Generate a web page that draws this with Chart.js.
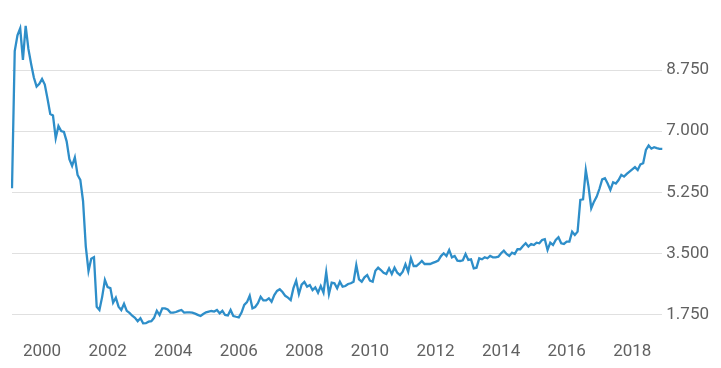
<!DOCTYPE html>
<html>
<head>
<meta charset="utf-8">
<script src="https://cdn.jsdelivr.net/npm/chart.js@4"></script>
<style>
  body { margin: 0; background: #fff; }
</style>
</head>
<body>
<canvas id="myChart" width="721" height="368"></canvas>
<script>
// monthly series, Feb 1999 .. Dec 2018
const startYear = 1999
const startMonth = 2
const xTickYears = ['2000', '2002', '2004', '2006', '2008', '2010', '2012', '2014', '2016', '2018']
const yTicks = [1750, 3500, 5250, 7000, 8750]

const values = [
    5365, 9300, 9750, 9950, 9046, 10021, 9360, 8930, 8540, 8280, 8360, 8500,
    8340, 7930, 7496, 7450, 6800, 7152, 7005, 6980, 6710, 6200, 6005, 6250,
    5746, 5606, 5000, 3700, 2990, 3340, 3385, 1968, 1873, 2250, 2734, 2530,
    2500, 2083, 2227, 1968, 1873, 2050, 1850, 1790, 1710, 1650, 1550, 1635,
    1492, 1495, 1538, 1555, 1650, 1854, 1730, 1922, 1922, 1890, 1800, 1796,
    1816, 1850, 1873, 1799, 1805, 1803, 1797, 1770, 1735, 1701, 1760, 1806,
    1828, 1845, 1830, 1873, 1778, 1850, 1730, 1716, 1873, 1701, 1680, 1663,
    1800, 2020, 2100, 2283, 1922, 1960, 2070, 2255, 2150, 2150, 2209, 2111,
    2304, 2420, 2467, 2390, 2280, 2230, 2160, 2500, 2714, 2332, 2600, 2680,
    2542, 2590, 2447, 2524, 2370, 2562, 2370, 2955, 2332, 2657, 2640, 2496,
    2685, 2542, 2562, 2620, 2640, 2685, 3164, 2754, 2685, 2811, 2877, 2714,
    2685, 3001, 3087, 3020, 2940, 2906, 3069, 2906, 3087, 2943, 2877, 2972,
    3184, 2972, 3356, 3135, 3135, 3200, 3279, 3193, 3193, 3193, 3225, 3255,
    3288, 3420, 3500, 3423, 3595, 3385, 3423, 3288, 3279, 3300, 3480, 3308,
    3327, 3069, 3087, 3356, 3327, 3385, 3356, 3423, 3385, 3385, 3404, 3500,
    3576, 3480, 3423, 3519, 3480, 3615, 3615, 3710, 3787, 3690, 3767, 3738,
    3804, 3787, 3881, 3902, 3595, 3804, 3738, 3881, 3959, 3787, 3767, 3833,
    3833, 4120, 4025, 4120, 5029, 5049, 5890, 5411, 4791, 4980, 5124, 5350,
    5620, 5650, 5500, 5316, 5535, 5500, 5600, 5750, 5698, 5775, 5840, 5905,
    5970, 5890, 6050, 6082, 6464, 6590, 6500, 6540, 6515, 6495, 6492
]

const months = []
for (let i = 0; i < values.length; i++) {
    const m = startMonth - 1 + i
    const y = startYear + Math.floor(m / 12)
    const mm = String(m % 12 + 1).padStart(2, '0')
    months.push(y + '-' + mm)
}

function my_line_chart() {
    new Chart('myChart', {
        type: 'line',
        data: {
            labels: months,
            datasets: [{
                data: values,
                borderColor: '#2e8ec9',
                borderWidth: 2.3,
                pointRadius: 0,
                tension: 0,
                fill: false
            }]
        },
        options: {
            responsive: false,
            animation: false,
            layout: {
                padding: { left: 11.7, right: 8, top: 20, bottom: 0 }
            },
            scales: {
                x: {
                    grid: { display: false, drawTicks: false },
                    border: { display: false },
                    afterFit: function (axis) {
                        axis.height = 38
                    },
                    ticks: {
                        autoSkip: false,
                        maxRotation: 0,
                        padding: 12,
                        color: '#616161',
                        font: { family: 'Roboto', size: 17 },
                        callback: function (value, index) {
                            const lab = months[index]
                            const yr = lab.slice(0, 4)
                            if (lab.slice(5) === '01' && xTickYears.includes(yr)) return yr
                            return ''
                        }
                    }
                },
                y: {
                    position: 'right',
                    min: 1300,
                    max: 10190,
                    grid: { color: '#e0e0e0', lineWidth: 1, drawTicks: false },
                    border: { display: false },
                    afterBuildTicks: function (axis) {
                        axis.ticks = yTicks.map(v => ({ value: v }))
                    },
                    ticks: {
                        padding: 4,
                        color: '#616161',
                        font: { family: 'Roboto', size: 17 },
                        callback: function (value) {
                            return value.toLocaleString('de-DE')
                        }
                    }
                }
            },
            plugins: {
                legend: { display: false },
                tooltip: { enabled: false }
            }
        }
    })
}

my_line_chart()
</script>
</body>
</html>
